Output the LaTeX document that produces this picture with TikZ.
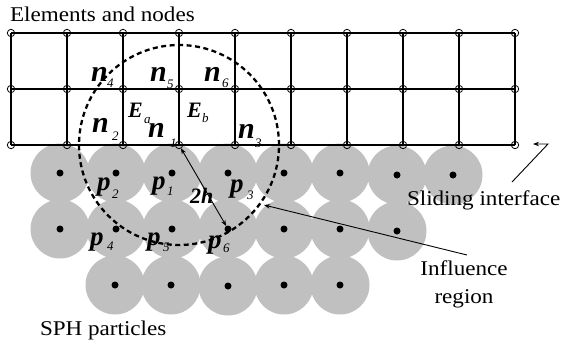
\documentclass[tikz,border=0pt]{standalone}
\usepackage{fontspec}
\usepackage{graphicx}
\setmainfont{Liberation Serif}
\usetikzlibrary{arrows.meta}
\definecolor{pgray}{RGB}{192,192,192}
\newcommand{\widetxt}[1]{\scalebox{1.1}[1]{#1}}
\begin{document}
\begin{tikzpicture}[x=1pt,y=-1pt,
 every node/.style={inner sep=0pt, outer sep=0pt},
 gn/.style={circle, draw, line width=0.8pt, minimum size=7.4pt},
 part/.style={circle, fill=pgray, minimum size=59pt},
 dot/.style={circle, fill=black, minimum size=7pt},
 txt/.style={font=\fontsize{21}{25}\selectfont, anchor=base west},
 bigl/.style={font=\fontsize{30}{30}\selectfont\bfseries\itshape, anchor=base west},
 pl/.style={font=\fontsize{27}{27}\selectfont\bfseries\itshape, anchor=base west},
 el/.style={font=\fontsize{22}{22}\selectfont\bfseries\itshape, anchor=base west},
 sub/.style={font=\fontsize{13}{13}\selectfont\itshape, anchor=base west},
 gridline/.style={line width=1.1pt},
 tip/.style={line width=0.9pt, -{Stealth[length=6pt,width=4.5pt]}},
 dtip/.style={line width=0.9pt, {Stealth[length=6pt,width=4.5pt]}-{Stealth[length=6pt,width=4.5pt]}},
 infl/.style={circle, draw, line width=2.3pt, dash pattern=on 5pt off 3.5pt, minimum size=200pt},
]
\useasboundingbox (0,0) rectangle (561,345);
% particles
\foreach \n/\x/\y in {a1/60/173, a2/116/173, a3/172/173, a4/228/173, a5/284/173, a6/340/173, a7/397/175, a8/453/175,
  b1/60/229, b2/116/229, b3/172/229, b4/228/229, b5/284/229, b6/340/229, b7/397/231,
  c2/115/285, c3/171/285, c4/228/286, c5/284/285, c6/340/285} {
  \node[part] (bg-\n) at (\x,\y) {};
}
\foreach \n/\x/\y in {a1/60/173, a2/116/173, a3/172/173, a4/228/173, a5/284/173, a6/340/173, a7/397/175, a8/453/175,
  b1/60/229, b2/116/229, b3/172/229, b4/228/229, b5/284/229, b6/340/229, b7/397/231,
  c2/115/285, c3/171/285, c4/228/286, c5/284/285, c6/340/285} {
  \node[dot] (d-\n) at (\x,\y) {};
}
% grid
\foreach \i in {0,...,9} {
  \foreach \j in {0,1,2} {
    \node[gn] (g-\i-\j) at ({11+56*\i},{33+56*\j}) {};
  }
}
\foreach \j in {0,1,2} \draw[gridline] (g-0-\j.center) -- (g-9-\j.center);
\foreach \i in {0,...,9} \draw[gridline] (g-\i-0.center) -- (g-\i-2.center);
% node labels
\node[bigl] (n4) at (91,81) {n};   \node[sub] (n4s) at (107,87) {4};
\node[bigl] (n5) at (150,81) {n};  \node[sub] (n5s) at (167,88) {5};
\node[bigl] (n6) at (204,81) {n};  \node[sub] (n6s) at (222,87) {6};
\node[bigl] (n2) at (92,132) {n};  \node[sub] (n2s) at (112,140) {2};
\node[bigl] (n1) at (148,137) {n}; \node[sub] (n1s) at (170,147) {1};
\node[bigl] (n3) at (238,138) {n}; \node[sub] (n3s) at (255,147) {3};
\node[el] (ea) at (128,117) {E};   \node[sub] (eas) at (144,123) {a};
\node[el] (eb) at (187,117) {E};   \node[sub] (ebs) at (202,122) {b};
% particle labels
\node[pl] (p2) at (97,190) {p};   \node[sub] (p2s) at (112,198) {2};
\node[pl] (p1) at (152,189) {p};  \node[sub] (p1s) at (167,195) {1};
\node[pl] (p3) at (230,192) {p};  \node[sub] (p3s) at (247,199) {3};
\node[pl] (p4) at (90,245) {p};   \node[sub] (p4s) at (107,250) {4};
\node[pl] (p5) at (147,245) {p};  \node[sub] (p5s) at (163,251) {5};
\node[pl] (p6) at (208,248) {p};  \node[sub] (p6s) at (223,252) {6};
\node[el] (th) at (190,203) {2h};
% texts
\node[txt] (t1) at (10,21.5) {\widetxt{Elements and nodes}};
\node[txt] (t2) at (40,335) {\widetxt{SPH particles}};
\node[txt] (t3) at (407,205) {\widetxt{Sliding interface}};
\node[txt, anchor=base] (t4) at (464,275) {\widetxt{Influence}};
\node[txt, anchor=base] (t5) at (464,303) {\widetxt{region}};
% influence circle
\node[infl] (ic) at (g-3-2.center) {};
% arrows
\draw[dtip] (g-3-2) -- (d-b4);
\coordinate (ir0) at (467,255);
\coordinate (ir1) at (264,205);
\draw[tip] (ir0) -- (ir1);
\coordinate (s0) at (512,182);
\coordinate (s1) at (548,144);
\coordinate (s2) at (533,144);
\draw[tip] (s0) -- (s1) -- (s2);
\end{tikzpicture}
\end{document}
